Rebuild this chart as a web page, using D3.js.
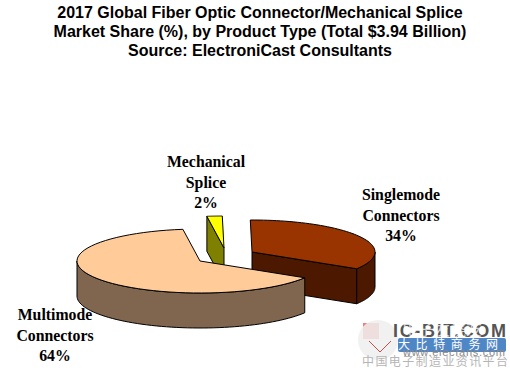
<!DOCTYPE html>
<html>
<head>
<meta charset="utf-8">
<script src="https://cdn.jsdelivr.net/npm/d3@7"></script>
<style>
  body { margin: 0; background: #fff; }
  svg { display: block; }
</style>
</head>
<body>
<svg width="510" height="368"></svg>
<script>
// data
const categories = ["Mechanical Splice", "Singlemode Connectors", "Multimode Connectors"]
const shares = [2, 34, 64]
const titleLines = [
    "2017 Global Fiber Optic Connector/Mechanical Splice",
    "Market Share (%), by Product Type (Total $3.94 Billion)",
    "Source: ElectroniCast Consultants"
]
const labelLines = [["Mechanical", "Splice", "2%"], ["Singlemode", "Connectors", "34%"], ["Multimode", "Connectors", "64%"]]

// look of each slice, same order as categories
const topColors = ["#ffff00", "#993300", "#ffcc99"]
const sideColors = ["#808000", "#4c1900", "#80664f"]
const cuts = [[224, 248], [252, 252], [200, 261]]   // where each exploded slice's point sits
const labelPos = [[206, 167], [401, 200], [55, 320]]

const rx = 123, ry = 32, depth = 35
const startAngle = -8 * Math.PI / 180

let svg = d3.select("svg")

svg.selectAll(".title")
    .data(titleLines)
    .join("text")
    .attr("class", "title")
    .attr("x", 260)
    .attr("y", (d, i) => 17.5 + i * 19)
    .attr("text-anchor", "middle")
    .attr("font-family", "Liberation Sans")
    .attr("font-weight", "bold")
    .attr("font-size", "16px")
    .text(d => d)

let arcs = d3.pie().value(d => d).sort(null)
    .startAngle(startAngle)
    .endAngle(startAngle + 2 * Math.PI)(shares)

// pie angle to point on the flattened rim
let rim = (a) => [rx * Math.sin(a), -ry * Math.cos(a)]
let line = d3.line()
let sweep = (a0, a1) => d3.range(0, 61).map(i => rim(a0 + (a1 - a0) * i / 60))
let down = (pts) => pts.map(p => [p[0], p[1] + depth]).reverse()

// back to front so the big slice covers the other two
let g = svg.selectAll(".slice")
    .data(arcs)
    .join("g")
    .attr("class", "slice")
    .attr("transform", (d, i) => "translate(" + cuts[i] + ")")
    .attr("stroke", "#000")
    .attr("stroke-width", 1)
    .attr("stroke-linejoin", "round")

// cut faces
g.each(function (d, i) {
    let face = d3.select(this)
    // mechanical splice shows its first edge, the others their last edge
    let edge = i == 0 ? rim(d.startAngle) : rim(d.endAngle)
    if (i < 2) {
        face.append("path")
            .attr("fill", sideColors[i])
            .attr("d", line([[0, 0], edge, [edge[0], edge[1] + depth], [0, depth]]) + "Z")
    }
    // outer wall, only the front half of the rim can be seen
    let a0 = Math.max(d.startAngle, Math.PI / 2)
    let a1 = Math.min(d.endAngle, 3 * Math.PI / 2)
    if (a1 > a0) {
        let pts = sweep(a0, a1)
        face.append("path")
            .attr("fill", sideColors[i])
            .attr("d", line(pts.concat(down(pts))) + "Z")
    }
    // top face
    face.append("path")
        .attr("fill", topColors[i])
        .attr("d", line([[0, 0]].concat(sweep(d.startAngle, d.endAngle))) + "Z")
})

labelLines.forEach((lines, i) => {
    svg.selectAll(".label" + i)
        .data(lines)
        .join("text")
        .attr("class", "label" + i)
        .attr("x", labelPos[i][0])
        .attr("y", (d, j) => labelPos[i][1] + j * 20.7)
        .attr("text-anchor", "middle")
        .attr("font-family", "Liberation Serif")
        .attr("font-weight", "bold")
        .attr("font-size", "15.8px")
        .text(d => d)
})

// watermark bottom right
let wm = svg.append("g").attr("class", "watermark")
wm.append("rect").attr("x", 363).attr("y", 323).attr("width", 16).attr("height", 16).attr("fill", "#e8807a")
wm.append("rect").attr("x", 398).attr("y", 338).attr("width", 108).attr("height", 14).attr("rx", 2).attr("fill", "#4f86c6")
wm.append("circle").attr("cx", 378).attr("cy", 340).attr("r", 20).attr("fill", "#eee").attr("opacity", 0.85)
wm.append("path").attr("fill", "none").attr("stroke", "#c0504d").attr("stroke-width", 1)
    .attr("d", d3.line()([[369, 341], [380, 352], [391, 341]]))
wm.append("text").attr("x", 393).attr("y", 337).attr("font-family", "Liberation Sans").attr("font-weight", "bold")
    .attr("font-size", "18px").attr("fill", "#555").attr("textLength", 113).text("IC-BIT.COM")
wm.append("text").attr("x", 402).attr("y", 335).attr("font-family", "Noto Sans CJK SC")
    .attr("font-size", "16px").attr("fill", "#fff").attr("opacity", 0.75).text("电子发烧友")
wm.append("text").attr("x", 398).attr("y", 349).attr("font-family", "Noto Sans CJK SC")
    .attr("font-size", "12px").attr("fill", "#fff").attr("textLength", 100).text("大比特商务网")
wm.append("text").attr("x", 403).attr("y", 356).attr("font-family", "Liberation Sans")
    .attr("font-size", "11px").attr("fill", "#888").attr("textLength", 102).text("www.elecfans.com")
wm.append("text").attr("x", 362).attr("y", 366).attr("font-family", "Noto Sans CJK SC")
    .attr("font-size", "12px").attr("fill", "#b5b5b5").attr("textLength", 146).text("中国电子制造业资讯平台")
</script>
</body>
</html>
